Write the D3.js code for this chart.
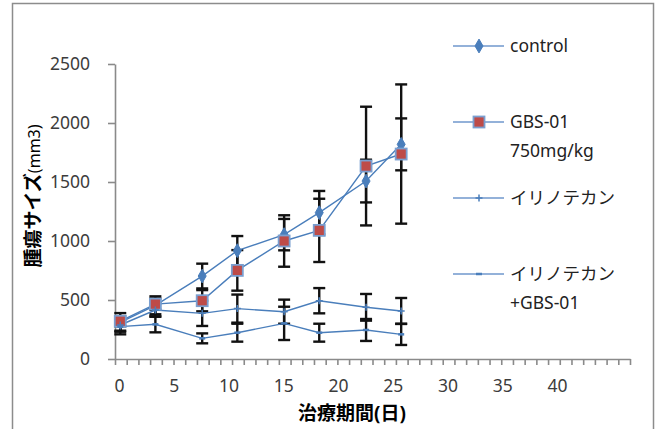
<!DOCTYPE html>
<html>
<head>
<meta charset="utf-8">
<script src="https://d3js.org/d3.v7.min.js"></script>
<style>
    body { margin: 0; background: #fff; }
    svg { display: block; }
    text { font-family: "Noto Sans", "Noto Sans CJK JP", sans-serif; }
</style>
</head>
<body>
<svg id="chart" width="658" height="429"></svg>
<script>
var days = [0, 3, 7, 10, 14, 17, 21, 24];
var xLabels = [0, 5, 10, 15, 20, 25, 30, 35, 40];
var yTicks = [0, 500, 1000, 1500, 2000, 2500];

// moyennes
var control = [310, 455, 703, 918, 1054, 1240, 1508, 1819];
var gbs01 = [320, 465, 494, 751, 1000, 1090, 1635, 1737];
var irino = [288, 415, 387, 427, 401, 494, 438, 407];
var irinoGbs = [274, 294, 175, 223, 302, 223, 246, 209];

// écarts
var controlErr = [79, 76, 105, 124, 133, 184, 181, 220];
var gbs01Err = [42, 48, 90, 172, 218, 268, 503, 590];
var irinoErr = [48, 57, 107, 119, 102, 107, 113, 110];
var irinoGbsErr = [65, 68, 42, 76, 141, 76, 93, 90];

var seriesNames = ["control", "GBS-01|750mg/kg", "イリノテカン", "イリノテカン|+GBS-01"];
var markers = ["diamond", "square", "plus", "dash"];

(function() {
    var blue = "#4a7ebb";
    var svg = d3.select("#chart");

    var series = [
        { name: seriesNames[0], values: control, err: controlErr, marker: markers[0] },
        { name: seriesNames[1], values: gbs01, err: gbs01Err, marker: markers[1] },
        { name: seriesNames[2], values: irino, err: irinoErr, marker: markers[2] },
        { name: seriesNames[3], values: irinoGbs, err: irinoGbsErr, marker: markers[3] }
    ];

    var x = d3.scaleLinear().domain([-0.45, 43.55]).range([115, 630]);
    var xLab = d3.scaleLinear().domain([0, 40]).range([119, 557]);
    var y = d3.scaleLinear().domain([0, 2500]).range([359, 64]);

    // cadre
    svg.append("rect")
        .attr("x", 12.5).attr("y", 3.5)
        .attr("width", 641).attr("height", 500)
        .attr("fill", "none").attr("stroke", "#8c8c8c").attr("stroke-width", 1.5);

    var minors = d3.range(0, 45).map(function(k) { return -0.45 + k; });

    var xAxis = svg.append("g")
        .attr("transform", "translate(0,359)")
        .call(d3.axisBottom(x).tickValues(minors).tickSize(6).tickSizeOuter(0).tickFormat(""));

    var xAxisLab = svg.append("g")
        .attr("transform", "translate(0,359)")
        .call(d3.axisBottom(xLab).tickValues(xLabels).tickSize(0).tickPadding(21));
    xAxisLab.select(".domain").remove();

    var yAxis = svg.append("g")
        .attr("transform", "translate(115,0)")
        .call(d3.axisLeft(y).tickValues(yTicks).tickFormat(d3.format("d"))
            .tickSize(7).tickSizeOuter(0).tickPadding(18));

    [xAxis, yAxis].forEach(function(a) {
        a.selectAll(".domain, line").attr("stroke", "#8a8a8a").attr("stroke-width", 1.6);
    });
    svg.selectAll(".tick text")
        .attr("fill", "#3c3c3c")
        .style("font-size", "17.5px")
        .style("font-family", "'Noto Sans', sans-serif");

    // barres d'erreur
    var bars = svg.append("g");
    series.forEach(function(s) {
        s.values.forEach(function(v, i) {
            var cx = x(days[i]);
            var y1 = y(v + s.err[i]), y2 = y(v - s.err[i]);
            bars.append("line").attr("x1", cx).attr("x2", cx).attr("y1", y1).attr("y2", y2);
            bars.append("line").attr("x1", cx - 6).attr("x2", cx + 6).attr("y1", y1).attr("y2", y1);
            bars.append("line").attr("x1", cx - 6).attr("x2", cx + 6).attr("y1", y2).attr("y2", y2);
        });
    });
    bars.selectAll("line").attr("stroke", "#111").attr("stroke-width", 2.4);

    var line = d3.line()
        .x(function(d, i) { return x(days[i]); })
        .y(function(d) { return y(d); });

    function drawMarker(g, kind, cx, cy) {
        if (kind === "diamond") {
            g.append("path")
                .attr("d", d3.symbol().type(d3.symbolDiamond).size(55)())
                .attr("transform", "translate(" + cx + "," + cy + ")")
                .attr("fill", blue).attr("stroke", blue);
        } else if (kind === "square") {
            g.append("rect")
                .attr("x", cx - 5.5).attr("y", cy - 5.5)
                .attr("width", 11).attr("height", 11)
                .attr("fill", "#be4b48").attr("stroke", "#7a9fd0").attr("stroke-width", 1.8);
        } else if (kind === "plus") {
            g.append("path")
                .attr("d", "M" + (cx - 3.5) + "," + cy + "H" + (cx + 3.5) + "M" + cx + "," + (cy - 3.5) + "V" + (cy + 3.5))
                .attr("stroke", blue).attr("stroke-width", 1.5);
        } else {
            g.append("path")
                .attr("d", "M" + (cx - 3) + "," + cy + "H" + (cx + 3))
                .attr("stroke", blue).attr("stroke-width", 2.5);
        }
    }

    series.forEach(function(s) {
        svg.append("path")
            .datum(s.values)
            .attr("d", line)
            .attr("fill", "none")
            .attr("stroke", blue)
            .attr("stroke-width", 1.4);
    });
    series.forEach(function(s) {
        var g = svg.append("g");
        s.values.forEach(function(v, i) {
            drawMarker(g, s.marker, x(days[i]), y(v));
        });
    });

    // légende
    var legY = [46, 122, 198, 274];
    var legend = svg.append("g");
    series.forEach(function(s, i) {
        legend.append("line")
            .attr("x1", 453).attr("x2", 504)
            .attr("y1", legY[i]).attr("y2", legY[i])
            .attr("stroke", "#6f97cc").attr("stroke-width", 1.5);
        drawMarker(legend, s.marker, 479, legY[i]);
        var parts = s.name.split("|");
        parts.forEach(function(p, j) {
            legend.append("text")
                .attr("x", 510)
                .attr("y", legY[i] + 6 + j * 29)
                .attr("fill", "#222")
                .style("font-size", "17.5px")
                .text(p);
        });
    });

    // titres des axes
    var yt = svg.append("text")
        .attr("transform", "translate(40,196) rotate(-90)")
        .attr("text-anchor", "middle")
        .attr("fill", "#000");
    yt.append("tspan").style("font-weight", "bold").style("font-size", "19px").text("腫瘍サイズ");
    yt.append("tspan").style("font-size", "16px").text("(mm3)");

    svg.append("text")
        .attr("x", 352).attr("y", 420)
        .attr("text-anchor", "middle")
        .style("font-weight", "bold")
        .style("font-size", "19px")
        .attr("fill", "#000")
        .text("治療期間(日)");
})();
</script>
</body>
</html>
